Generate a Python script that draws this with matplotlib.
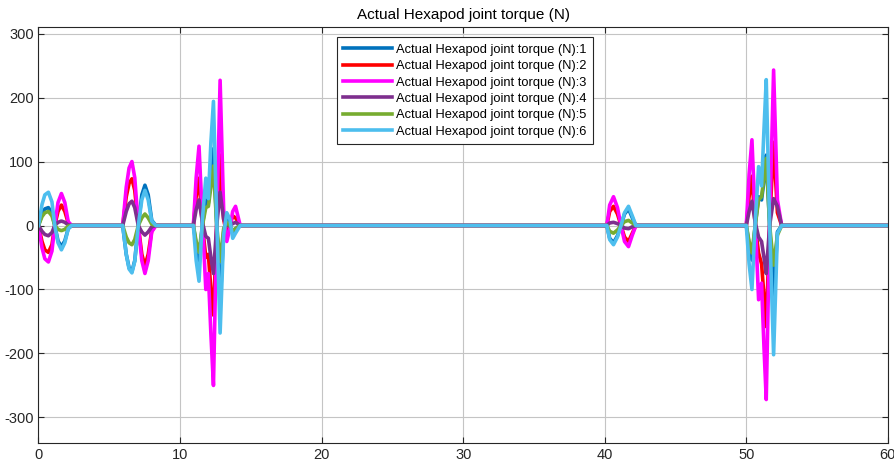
import numpy as np
import matplotlib.pyplot as plt

plt.rcParams['font.family'] = ['Liberation Sans', 'DejaVu Sans']
plt.rcParams['axes.unicode_minus'] = False

# time samples (s), shared by all six joints
t = [0.0, 0.25, 0.45, 0.7, 0.95, 1.15, 1.38, 1.62, 1.86, 2.1, 2.35,
     5.95, 6.2, 6.4, 6.6, 6.8, 7.05, 7.3, 7.52, 7.75, 8.0, 8.3,
     10.94, 11.14, 11.34, 11.58, 11.82, 12.0, 12.18, 12.36, 12.59, 12.83,
     13.08, 13.3, 13.52, 13.72, 13.92, 14.25,
     40.15, 40.35, 40.62, 40.9, 41.15, 41.4, 41.68, 41.95, 42.2,
     50.0, 50.2, 50.4, 50.63, 50.87, 51.08, 51.25, 51.41, 51.65, 51.93, 52.2, 52.5,
     60.0]

# joint torques (N)
j1 = [0, 18, 26, 28, 20, 0, -24, -33, -24, -5, 0,
      0, -45, -66, -72, -55, 0, 48, 63, 48, 8, 0,
      0, -30, -55, 0, 40, 35, 80, 120, 0, -125, -10, 15, 0, -12, -5, 0,
      0, -20, -27, -16, 0, 18, 26, 12, 0,
      0, -30, -54, 0, 45, 40, 70, 110, 0, -115, -10, 0,
      0]
j2 = [0, -25, -38, -42, -30, 0, 22, 32, 22, 4, 0,
      0, 45, 66, 73, 55, 0, -45, -63, -45, -8, 0,
      0, 45, 74, 0, -50, -45, -100, -140, 0, 110, 10, -15, 0, 15, 12, 0,
      0, 22, 30, 18, 0, -18, -25, -12, 0,
      0, 45, 77, 0, -43, -60, -110, -158, 0, 130, 20, 0,
      0]
j3 = [0, -35, -52, -57, -40, 0, 36, 50, 36, 6, 0,
      0, 60, 90, 100, 75, 0, -55, -75, -55, -10, 0,
      0, 75, 124, 10, -100, -75, -170, -250, 0, 227, 25, -25, -5, 22, 30, 0,
      0, 32, 45, 28, 0, -25, -33, -15, 0,
      0, 80, 134, 10, -116, -90, -190, -272, 0, 243, 40, 0,
      0]
j4 = [0, -9, -14, -16, -11, 0, 5, 7, 5, 1, 0,
      0, 22, 34, 38, 28, 0, -10, -15, -10, -2, 0,
      0, 25, 40, 5, -17, -20, -50, -75, 0, 52, 10, 0, 0, 3, 5, 0,
      0, 4, 5, 3, 0, -4, -5, -2, 0,
      0, 22, 38, 5, -18, -25, -50, -75, 0, 42, 30, 0,
      0]
j5 = [0, 14, 20, 22, 15, 0, -6, -8, -6, -1, 0,
      0, -18, -27, -30, -22, 0, 12, 18, 12, 2, 0,
      0, -25, -42, 0, 28, 30, 60, 93, 0, -56, -5, 5, 0, -8, -5, 0,
      0, -9, -12, -7, 0, 6, 8, 4, 0,
      0, -25, -43, 0, 40, 45, 75, 105, 0, -62, -15, 0,
      0]
j6 = [0, 33, 48, 52, 37, 0, -27, -38, -27, -5, 0,
      0, -45, -68, -74, -56, 0, 40, 55, 40, 7, 0,
      0, -55, -87, 10, 74, 42, 130, 194, 10, -168, -15, 20, 10, -20, -12, 0,
      0, -22, -30, -18, 0, 20, 30, 15, 0,
      0, -60, -100, 5, 92, 62, 150, 228, 0, -202, -12, 0,
      0]

colors = ['#0072BD', '#FF0000', '#FF00FF', '#7E2F8E', '#77AC30', '#4DBEEE']
title = 'Actual Hexapod joint torque (N)'

fig = plt.figure(figsize=(8.95, 4.61), dpi=100)
ax = fig.add_axes([0.043, 0.039, 0.949, 0.902])

for i, y in enumerate([j1, j2, j3, j4, j5, j6]):
    ax.plot(t, y, color=colors[i], lw=2.6, label=f'{title}:{i+1}')

ax.set_xlim(0, 60)
ax.set_ylim(-340, 310)
ax.set_xticks(np.arange(0, 61, 10))
ax.set_yticks(np.arange(-300, 301, 100))
ax.grid(True, color='#c4c4c4', lw=0.8)
ax.set_axisbelow(True)
ax.tick_params(direction='in', top=True, right=True, labelsize=10.5,
               colors='#262626', length=4)
for s in ax.spines.values():
    s.set_color('#262626')
    s.set_linewidth(0.8)
ax.set_title(title, fontsize=11, pad=6)

leg = ax.legend(loc='upper center', bbox_to_anchor=(0.502, 0.976), borderaxespad=0,
                fontsize=9.3, handlelength=3.8, handletextpad=0.3,
                labelspacing=0.34, fancybox=False, framealpha=1,
                edgecolor='#262626', borderpad=0.5)
leg.get_frame().set_linewidth(0.8)

fig.savefig('out.png', dpi=100)
